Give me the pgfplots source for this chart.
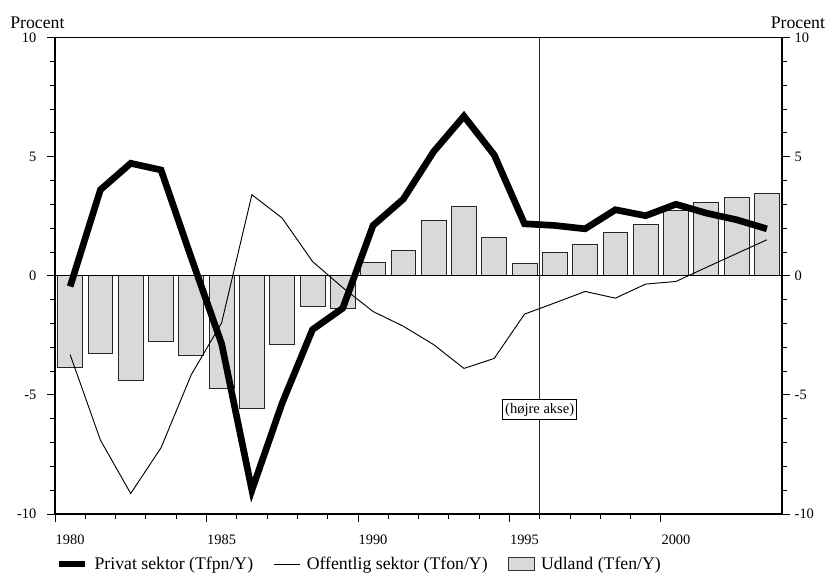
\documentclass[border=0pt]{standalone}
\usepackage{pgfplots}
\pgfplotsset{compat=1.18}
\usepackage{pgfplotstable}
\usepackage{fontspec}
\setmainfont{Liberation Serif}
\definecolor{barfill}{HTML}{D9D9D9}

\pgfplotstableread{
x      p      o      u
1980.5 -0.45  -3.31  -3.84
1981.5  3.61  -6.90  -3.24
1982.5  4.72  -9.14  -4.40
1983.5  4.44  -7.22  -2.75
1984.5  0.75  -4.15  -3.33
1985.5 -2.85  -1.98  -4.72
1986.5 -9.00   3.40  -5.55
1987.5 -5.34   2.42  -2.89
1988.5 -2.26   0.60  -1.29
1989.5 -1.36  -0.50  -1.36
1990.5  2.11  -1.50   0.56
1991.5  3.22  -2.12   1.08
1992.5  5.21  -2.89   2.31
1993.5  6.70  -3.89   2.91
1994.5  5.07  -3.47   1.62
1995.5  2.18  -1.61   0.53
1996.5  2.11  -1.14   0.99
1997.5  1.97  -0.66   1.31
1998.5  2.77  -0.94   1.82
1999.5  2.52  -0.35   2.15
2000.5  3.00  -0.24   2.73
2001.5  2.63   0.35   3.07
2002.5  2.35   0.93   3.30
2003.5  1.97   1.51   3.47
}\data

\begin{document}
\begin{tikzpicture}
\path[use as bounding box] (-41.25pt,-45.75pt) rectangle (579.75pt,385.5pt);
\begin{axis}[name=main, at={(0pt,0pt)}, anchor=south west,
  scale only axis, width=545.25pt, height=357.375pt,
  xmin=1980, xmax=2004, ymin=-10, ymax=10,
  xtick={1980,1985,...,2000}, xticklabels={1980,1985,1990,1995,2000},
  minor x tick num=4,
  ytick={-10,-5,...,10}, yticklabels={-10,-5,0,5,10},
  minor y tick num=4,
  xtick pos=left, ytick pos=left, tick align=outside,
  major tick length=6pt, minor tick length=3.5pt,
  tick style={black, line width=0.6pt},
  axis line style={black, line width=0.8pt},
  ticklabel style={font=\fontsize{10.8}{12}\selectfont},
  xticklabel style={xshift=11.34pt, yshift=-6pt},
  yticklabel style={xshift=-4.5pt},
  clip=false,
  legend columns=3,
  legend style={at={(0,-0.105)}, anchor=west, draw=none, fill=none, inner sep=0pt,
    font=\fontsize{13.3}{15}\selectfont,
    /tikz/every odd column/.append style={column sep=3pt},
    /tikz/every even column/.append style={column sep=13pt}},
]
\addlegendimage{legend image code/.code={\draw[black, line width=5pt] (0pt,0pt) -- (19.5pt,0pt);}}
\addlegendentry{Privat sektor (Tfpn/Y)}
\addlegendimage{legend image code/.code={\draw[black, line width=0.7pt] (0pt,0pt) -- (19.5pt,0pt);}}
\addlegendentry{Offentlig sektor (Tfon/Y)}
\addlegendimage{legend image code/.code={\draw[fill=barfill, draw=black!80, line width=0.6pt] (0pt,-4.9pt) rectangle (19.5pt,4.9pt);}}
\addlegendentry{Udland (Tfen/Y)}

\addplot[ybar, bar width=0.82, fill=barfill, draw=black!85, line width=0.6pt, forget plot] table[x=x, y=u] {\data};
\draw[black, line width=0.8pt] (axis cs:1980,0) -- (axis cs:2004,0);
\draw[black!85, line width=0.6pt] (axis cs:1996,-10) -- (axis cs:1996,10);
\addplot[black, line width=0.7pt, mark=none, forget plot] table[x=x, y=o] {\data};
\addplot[black, line width=5pt, line join=miter, mark=none, forget plot] table[x=x, y=p] {\data};
\node[fill=white, draw=black, line width=0.5pt, inner xsep=1.8pt, inner ysep=2.5pt,
  font=\fontsize{10.9}{12}\selectfont] at (axis cs:1996,-5.62) {(højre akse)};
\node[anchor=base west, font=\fontsize{13.3}{15}\selectfont, inner sep=0pt] at (rel axis cs:-0.0619,1.0199) {Procent};
\node[anchor=base east, font=\fontsize{13.3}{15}\selectfont, inner sep=0pt] at (rel axis cs:1.0594,1.0199) {Procent};
\end{axis}
\begin{axis}[at={(0pt,0pt)}, anchor=south west,
  scale only axis, width=545.25pt, height=357.375pt,
  xmin=1980, xmax=2004, ymin=-10, ymax=10,
  axis x line=none, axis y line*=right,
  ytick={-10,-5,...,10}, yticklabels={-10,-5,0,5,10},
  minor y tick num=4, tick align=outside,
  major tick length=6pt, minor tick length=3.5pt,
  tick style={black, line width=0.6pt},
  axis line style={black, line width=0.8pt},
  ticklabel style={font=\fontsize{10.8}{12}\selectfont},
]
\addplot[draw=none, forget plot] coordinates {(1990,0)};
\end{axis}
\end{tikzpicture}
\end{document}
